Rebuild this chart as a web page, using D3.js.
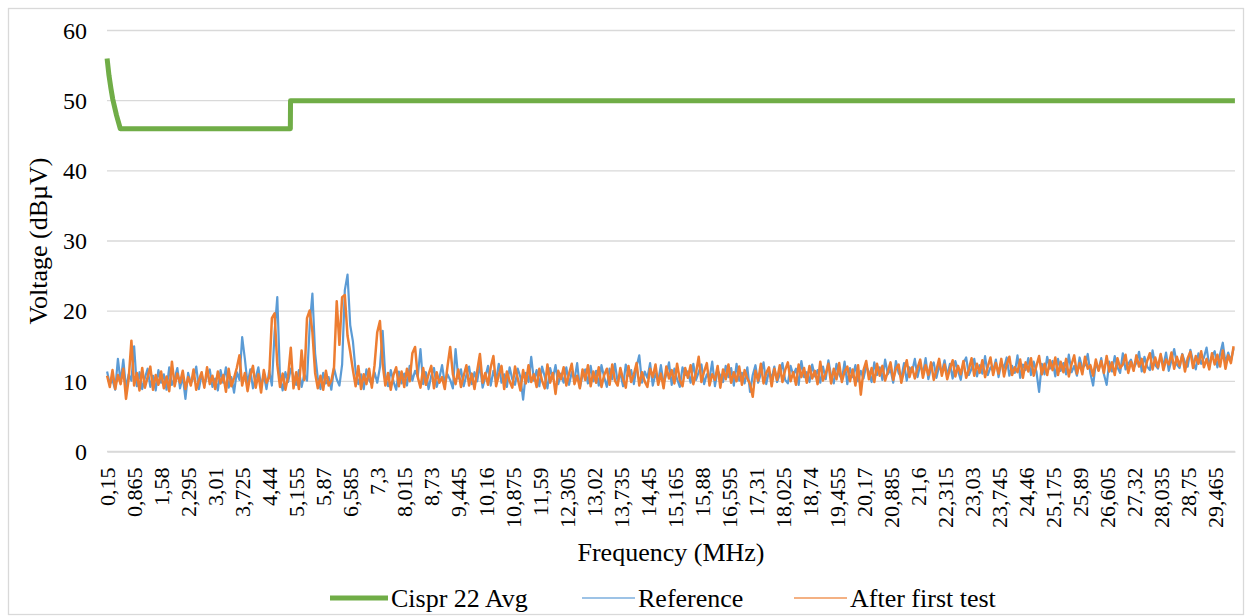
<!-- EMI conducted emission chart, v7 -->
<!DOCTYPE html>
<html>
<head>
<meta charset="utf-8">
<title>Conducted emission 0.15-30 MHz</title>
<script src="https://cdn.jsdelivr.net/npm/d3@7/dist/d3.min.js"></script>
</head>
<body style="margin:0; background:#ffffff">
<svg id="plot" width="1247" height="616"></svg>
<script>
    // Tick labels of the category axis (every 0.715 MHz)
    const tickLabels = ["0,15","0,865","1,58","2,295","3,01","3,725","4,44","5,155","5,87","6,585",
        "7,3","8,015","8,73","9,445","10,16","10,875","11,59","12,305","13,02","13,735",
        "14,45","15,165","15,88","16,595","17,31","18,025","18,74","19,455","20,17","20,885",
        "21,6","22,315","23,03","23,745","24,46","25,175","25,89","26,605","27,32","28,035",
        "28,75","29,465"];
    const yTicks = [0, 10, 20, 30, 40, 50, 60];

    // Cispr 22 average limit (MHz / dBuV)
    const limitFreq = [0.15, 0.2, 0.25, 0.3, 0.4, 0.5, 5.0, 5.005, 30];
    const limitVal  = [56, 53.6, 51.8, 50.2, 47.9, 46, 46, 50, 50];

    // Measured spectra, 10 readings per tick interval starting at 0.15 MHz
    const freqStart = 0.15;
    const freqStep = 0.0715;

    const reference = [
        11.4, 9.6, 10.2, 8.8, 13.2, 9.9, 13.1, 9.0, 11.0, 10.1,
        15.0, 9.3, 11.3, 8.9, 10.5, 11.8, 9.2, 10.8, 8.7, 11.6,
        9.8, 11.0, 8.8, 12.0, 9.5, 10.4, 11.9, 9.0, 10.7, 7.5,
        11.2, 9.7, 10.5, 12.1, 8.9, 11.0, 9.4, 10.8, 11.7, 9.2,
        10.4, 8.7, 11.6, 9.8, 12.0, 9.1, 10.6, 8.4, 11.3, 10.2,
        16.3, 13.2, 9.6, 11.7, 9.0, 10.5, 12.0, 9.3, 10.9, 8.9,
        11.5, 9.4, 17.0, 22.0, 10.5, 8.7, 11.3, 9.9, 11.8, 10.7,
        9.5, 11.6, 9.2, 11.0, 10.1, 18.0, 22.5, 14.0, 10.4, 8.9,
        11.2, 9.7, 10.6, 8.8, 11.9, 10.3, 9.4, 12.4, 23.0, 25.2,
        18.0, 15.7, 11.4, 9.6, 11.0, 8.9, 11.7, 10.2, 9.5, 11.3,
        9.8, 12.0, 17.2, 10.5, 9.3, 11.6, 10.0, 8.8, 11.4, 9.7,
        11.1, 9.4, 12.2, 10.1, 11.5, 10.7, 14.6, 9.6, 11.3, 8.9,
        10.8, 11.9, 9.2, 10.5, 12.3, 9.7, 11.0, 10.2, 9.0, 14.6,
        10.4, 11.7, 9.3, 10.9, 12.1, 9.6, 11.3, 10.0, 12.4, 9.1,
        10.6, 12.2, 9.4, 11.5, 10.1, 12.5, 9.8, 11.0, 9.2, 12.0,
        10.3, 9.5, 11.8, 10.6, 7.4, 11.2, 9.9, 13.5, 10.1, 11.6,
        9.3, 12.1, 10.7, 9.0, 11.9, 10.4, 12.3, 9.6, 11.1, 9.8,
        12.0, 9.5, 11.3, 10.2, 12.6, 9.1, 10.9, 11.7, 9.7, 12.2,
        10.0, 11.5, 9.4, 12.3, 10.6, 9.2, 11.8, 10.3, 12.5, 9.9,
        11.2, 9.3, 12.4, 10.8, 11.6, 9.6, 12.1, 13.7, 9.8, 11.4,
        10.5, 12.6, 9.4, 11.1, 10.0, 12.3, 9.7, 11.0, 12.7, 9.5,
        11.8, 10.3, 9.2, 12.0, 10.9, 11.4, 9.8, 12.5, 10.2, 11.3,
        12.4, 9.6, 11.0, 10.4, 12.8, 9.3, 11.6, 10.8, 9.9, 12.2,
        10.6, 11.9, 9.4, 12.5, 10.1, 11.2, 9.7, 12.0, 8.5, 10.9,
        12.3, 9.8, 11.1, 12.7, 9.6, 11.5, 10.4, 12.1, 9.9, 11.0,
        12.6, 10.2, 9.7, 12.2, 10.9, 11.8, 9.5, 12.9, 10.6, 11.3,
        9.9, 12.4, 10.7, 11.6, 9.8, 12.1, 10.3, 13.0, 10.8, 9.7,
        12.5, 11.0, 10.2, 12.8, 9.6, 11.9, 10.6, 12.3, 10.0, 11.5,
        10.4, 12.2, 11.3, 9.9, 12.7, 10.9, 12.0, 10.2, 13.1, 11.0,
        11.7, 9.8, 12.9, 11.2, 10.5, 12.6, 10.1, 12.0, 11.4, 13.2,
        10.6, 12.4, 11.1, 13.3, 10.3, 11.9, 12.7, 10.5, 12.2, 11.3,
        13.0, 10.8, 12.5, 10.4, 12.9, 11.5, 10.2, 12.6, 13.4, 10.9,
        11.8, 13.2, 10.7, 12.3, 11.1, 13.6, 10.9, 12.0, 11.5, 13.1,
        10.6, 12.7, 11.9, 13.4, 10.8, 12.2, 11.2, 13.7, 10.5, 12.4,
        11.6, 13.3, 10.9, 12.8, 11.4, 8.5, 12.5, 11.0, 13.5, 11.8,
        12.9, 10.7, 13.2, 11.5, 12.6, 11.0, 13.8, 11.3, 12.2, 10.8,
        13.4, 11.9, 12.3, 13.9, 11.1, 9.4, 12.7, 11.6, 13.3, 11.0,
        9.5, 12.8, 11.4, 13.6, 12.0, 11.2, 14.0, 11.7, 12.5, 13.1,
        11.9, 12.6, 14.2, 11.4, 13.5, 12.1, 11.6, 14.4, 12.3, 11.8,
        13.7, 12.2, 14.1, 11.5, 13.0, 14.6, 12.4, 11.9, 13.9, 12.7,
        12.1, 14.5, 12.8, 11.7, 14.0, 12.5, 13.4, 14.8, 12.2, 13.6,
        14.3, 12.0, 13.9, 15.5, 12.6, 14.1, 12.9, 14.7
    ];

    const afterTest = [
        10.8, 9.2, 11.6, 8.9, 10.9, 9.6, 11.8, 7.5, 10.4, 15.8,
        9.4, 11.2, 8.7, 11.9, 9.1, 10.6, 12.1, 8.8, 10.9, 9.5,
        11.4, 9.0, 10.7, 8.6, 12.8, 9.3, 11.1, 9.8, 11.5, 8.9,
        10.6, 9.4, 11.7, 8.8, 10.2, 11.3, 9.1, 12.0, 9.6, 10.8,
        8.9, 11.4, 9.7, 10.9, 8.5, 11.8, 9.3, 10.5, 11.9, 13.7,
        9.4, 11.2, 8.6, 10.8, 12.2, 9.1, 11.0, 8.4, 11.6, 9.8,
        10.6, 19.0, 19.7, 12.4, 9.2, 11.1, 8.8, 10.7, 14.8, 9.0,
        11.3, 8.9, 14.4, 10.2, 19.0, 20.1, 17.0, 11.2, 9.0, 10.8,
        8.8, 11.5, 9.4, 10.1, 12.0, 21.4, 15.2, 22.0, 22.3, 16.5,
        14.2, 11.6, 9.3, 12.2, 8.9, 11.0, 9.6, 11.8, 9.1, 12.3,
        17.0, 18.6, 12.5, 9.4, 11.2, 8.8, 10.9, 12.0, 9.3, 11.4,
        9.2, 11.8, 10.0, 14.0, 14.9, 10.6, 9.1, 11.9, 9.5, 11.0,
        12.2, 9.0, 11.3, 9.8, 10.6, 8.9, 12.1, 14.9, 11.0, 9.6,
        11.7, 9.2, 10.8, 12.3, 9.4, 11.1, 8.9, 11.5, 13.9, 9.8,
        11.2, 9.5, 12.0, 13.6, 9.3, 10.9, 12.2, 8.9, 11.4, 10.0,
        9.1, 12.1, 10.4, 8.7, 11.6, 9.7, 12.3, 9.9, 11.0, 9.2,
        11.8, 10.1, 9.0, 12.4, 9.8, 11.2, 8.2, 11.5, 10.3, 12.0,
        9.4, 11.1, 12.5, 9.6, 10.8, 9.0, 11.7, 10.2, 12.3, 9.3,
        11.4, 9.8, 12.0, 9.2, 10.9, 11.8, 9.5, 12.4, 10.1, 9.4,
        11.9, 10.3, 9.1, 12.2, 9.9, 11.0, 12.6, 9.4, 11.3, 10.0,
        9.2, 11.8, 10.6, 12.4, 9.5, 11.1, 9.0, 12.1, 10.4, 11.6,
        9.7, 12.5, 10.2, 9.3, 11.9, 10.5, 12.3, 9.6, 11.2, 13.5,
        9.9, 11.4, 12.6, 9.4, 11.0, 10.2, 12.2, 9.1, 11.7, 10.3,
        12.4, 9.8, 11.3, 10.0, 12.1, 9.5, 11.6, 10.4, 9.6, 7.8,
        11.5, 10.1, 12.5, 9.7, 11.2, 12.0, 9.3, 11.8, 10.2, 12.3,
        9.9, 11.6, 12.7, 10.0, 11.3, 9.5, 12.4, 10.6, 11.9, 9.8,
        12.2, 10.4, 11.5, 9.6, 12.8, 10.1, 11.1, 12.5, 9.7, 11.8,
        10.3, 12.6, 9.9, 11.4, 12.1, 10.0, 11.7, 9.4, 12.3, 8.1,
        11.6, 12.9, 10.3, 11.9, 9.9, 12.5, 10.8, 12.2, 10.1, 11.4,
        12.7, 10.2, 11.8, 12.4, 9.8, 11.5, 13.0, 10.6, 12.0, 10.4,
        11.9, 13.1, 10.5, 12.3, 10.9, 12.7, 10.2, 11.6, 13.2, 10.8,
        12.4, 10.3, 11.8, 13.0, 10.7, 12.2, 11.0, 12.9, 10.5, 11.7,
        13.3, 10.8, 12.5, 11.2, 13.0, 10.6, 12.1, 13.4, 10.9, 12.6,
        11.1, 13.2, 10.7, 12.4, 13.5, 10.9, 12.0, 11.3, 13.1, 10.5,
        12.7, 11.4, 13.3, 10.8, 12.2, 13.6, 11.0, 12.5, 10.9, 13.0,
        11.6, 13.4, 10.9, 12.8, 11.3, 13.2, 10.7, 12.4, 13.7, 11.1,
        12.6, 11.0, 13.5, 11.8, 12.3, 10.8, 13.1, 11.5, 12.9, 11.2,
        13.6, 11.4, 12.7, 10.9, 13.3, 11.9, 12.4, 13.8, 11.2, 12.8,
        11.5, 13.7, 12.1, 13.2, 11.3, 12.9, 14.0, 11.7, 13.4, 12.0,
        13.9, 11.6, 13.1, 12.4, 14.1, 11.8, 13.5, 12.2, 13.8, 11.4,
        13.3, 14.2, 11.9, 13.6, 12.5, 14.3, 12.0, 13.2, 11.7, 14.0,
        12.4, 13.8, 12.1, 14.4, 11.8, 13.7, 12.6, 15.0
    ];

    const LIMIT_COLOR = '#70AD47';
    const REF_COLOR = '#5B9BD5';
    const AFTER_COLOR = '#ED7D31';
    const GRID_COLOR = '#D9D9D9';
    const SERIF = 'Times New Roman';

    const svg = d3.select('#plot');
    const area = { left: 107, right: 1235, top: 30.5, bottom: 451.5 };

    const freqs = reference.map((d, i) => freqStart + i * freqStep);
    const tickVals = tickLabels.map(t => +t.replace(',', '.'));

    const xs = d3.scaleLinear().domain([0.1475, 30.0025]).range([area.left, area.right]);
    const ys = d3.scaleLinear().domain([0, 60]).range([area.bottom, area.top]);

    // outer border
    svg.append('rect')
        .attr('x', 8.5).attr('y', 8.5)
        .attr('width', 1235).attr('height', 606)
        .attr('fill', 'none')
        .attr('stroke', GRID_COLOR)
        .attr('stroke-width', 1.3);

    // gridlines
    yTicks.forEach(v => {
        svg.append('line')
            .attr('x1', area.left).attr('x2', area.right)
            .attr('y1', ys(v)).attr('y2', ys(v))
            .attr('stroke', GRID_COLOR)
            .attr('stroke-width', 1.3);
    });

    // y tick labels
    const gy = svg.append('g')
        .attr('transform', `translate(${area.left - 20},0)`)
        .call(d3.axisLeft(ys).tickValues(yTicks).tickSize(0).tickPadding(0));
    gy.select('.domain').remove();
    gy.selectAll('text')
        .attr('font-family', SERIF)
        .attr('font-size', 24)
        .attr('fill', '#000');

    // x tick labels (rotated)
    const gx = svg.append('g')
        .attr('transform', `translate(0,${area.bottom})`)
        .call(d3.axisBottom(xs)
            .tickValues(tickVals)
            .tickFormat((d, i) => tickLabels[i])
            .tickSize(0)
            .tickSizeOuter(0));
    gx.select('.domain').attr('stroke', GRID_COLOR).attr('stroke-width', 1.3);
    gx.selectAll('text')
        .attr('font-family', SERIF)
        .attr('font-size', 22)
        .attr('fill', '#000')
        .attr('text-anchor', 'end')
        .attr('transform', 'rotate(-90)')
        .attr('x', -16)
        .attr('y', 0)
        .attr('dy', '0.35em');

    // axis titles
    svg.append('text')
        .attr('x', (area.left + area.right) / 2)
        .attr('y', 561)
        .attr('text-anchor', 'middle')
        .attr('font-family', SERIF)
        .attr('font-size', 26)
        .text('Frequency (MHz)');

    svg.append('text')
        .attr('transform', `translate(47,${(area.top + area.bottom) / 2}) rotate(-90)`)
        .attr('text-anchor', 'middle')
        .attr('font-family', SERIF)
        .attr('font-size', 26)
        .text('Voltage (dBµV)');

    // series
    const line = d3.line().x(d => xs(d[0])).y(d => ys(d[1]));
    const drawSeries = (fx, vals, color, width) => {
        svg.append('path')
            .attr('d', line(vals.map((v, i) => [fx[i], v])))
            .attr('fill', 'none')
            .attr('stroke', color)
            .attr('stroke-width', width)
            .attr('stroke-linejoin', 'round');
    };
    drawSeries(limitFreq, limitVal, LIMIT_COLOR, 5);
    drawSeries(freqs, reference, REF_COLOR, 2.2);
    drawSeries(freqs, afterTest, AFTER_COLOR, 2.5);

    // legend
    const legendItems = [
        { x: 330, w: 58, sw: 5, color: LIMIT_COLOR, label: 'Cispr 22 Avg' },
        { x: 582, w: 53, sw: 2, color: '#9DC3E6', label: 'Reference' },
        { x: 794, w: 53, sw: 2, color: '#F4B183', label: 'After first test' }
    ];
    legendItems.forEach(item => {
        svg.append('line')
            .attr('x1', item.x).attr('x2', item.x + item.w)
            .attr('y1', 598).attr('y2', 598)
            .attr('stroke', item.color)
            .attr('stroke-width', item.sw);
        svg.append('text')
            .attr('x', item.x + item.w + 3)
            .attr('y', 598)
            .attr('dy', '0.35em')
            .attr('font-family', SERIF)
            .attr('font-size', 26)
            .text(item.label);
    });
</script>
</body>
</html>
